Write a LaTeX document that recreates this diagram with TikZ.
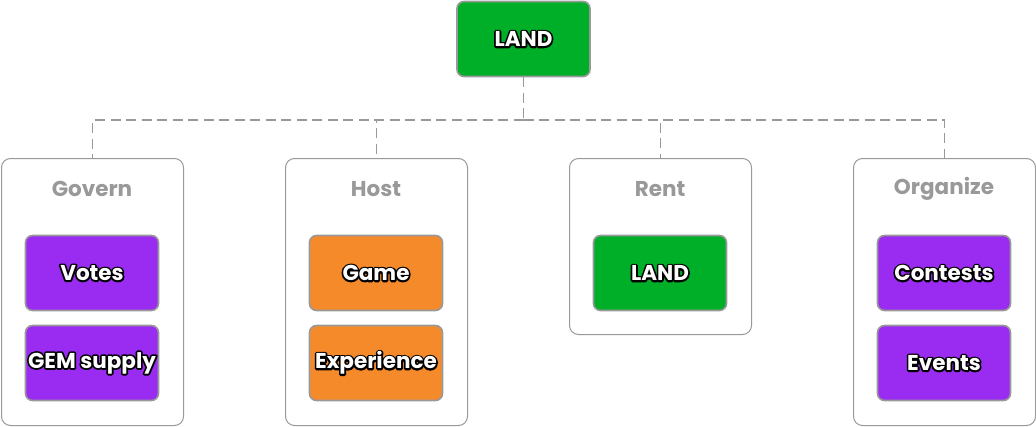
\documentclass[tikz,border=0pt]{standalone}
\usepackage{fontspec}
\setmainfont{Poppins}[BoldFont=* Bold]
\definecolor{bordergray}{HTML}{999999}
\definecolor{landgreen}{HTML}{00AF28}
\definecolor{votepurple}{HTML}{9A2BF0}
\definecolor{hostorange}{HTML}{F58A2B}
\definecolor{labelgray}{HTML}{999999}
\tikzset{
  itembox/.style={draw=bordergray, line width=1.6pt, rounded corners=7pt, minimum width=133pt, minimum height=75pt, inner sep=0pt, font=\fontsize{21.5}{24}\selectfont\bfseries, text=white},
  groupbox/.style={draw=bordergray, line width=1pt, rounded corners=9pt, fill=white},
  grouplabel/.style={font=\fontsize{21.5}{24}\selectfont\bfseries, text=labelgray, inner sep=0pt},
  link/.style={draw=bordergray, line width=1.8pt, dash pattern=on 10pt off 5.5pt},
}
\newcommand{\wt}[1]{\rlap{\color{black}\special{pdf:literal direct 2 Tr 3.4 w 1 j}#1\special{pdf:literal direct 0 Tr 0 j}}#1}
\begin{document}
\begin{tikzpicture}[x=1pt,y=-1pt]
\useasboundingbox[fill=white] (0,0) rectangle (1036,426);
% group boxes
\node[groupbox, minimum width=182pt, minimum height=267pt, anchor=north west] (g1) at (1,158) {};
\node[groupbox, minimum width=182pt, minimum height=267pt, anchor=north west] (g2) at (285,158) {};
\node[groupbox, minimum width=182pt, minimum height=176pt, anchor=north west] (g3) at (569,158) {};
\node[groupbox, minimum width=182pt, minimum height=267pt, anchor=north west] (g4) at (853,158) {};
% labels
\node[grouplabel] (l1) at (92,189) {Govern};
\node[grouplabel] (l2) at (376,189) {Host};
\node[grouplabel] (l3) at (660,189) {Rent};
\node[grouplabel] (l4) at (944,189) {Organize};
% top
\node[itembox, fill=landgreen] (land) at (523.5,39) {\wt{LAND}};
% items
\node[itembox, fill=votepurple] (votes) at (92,273) {\wt{Votes}};
\node[itembox, fill=votepurple] (gem) at (92,363) {\wt{GEM supply}};
\node[itembox, fill=hostorange] (game) at (376,273) {\wt{Game}};
\node[itembox, fill=hostorange] (exp) at (376,363) {\wt{Experience}};
\node[itembox, fill=landgreen] (rland) at (660,273) {\wt{LAND}};
\node[itembox, fill=votepurple] (cont) at (944,273) {\wt{Contests}};
\node[itembox, fill=votepurple] (events) at (944,363) {\wt{Events}};
% connectors
\coordinate (bus) at (523.5,120);
\draw[link] (land.south) -- (bus);
\draw[link] (bus) -| (g1.north);
\draw[link] (bus) -| (g2.north);
\draw[link] (bus) -| (g3.north);
\draw[link] (bus) -| (g4.north);
\end{tikzpicture}
\end{document}
